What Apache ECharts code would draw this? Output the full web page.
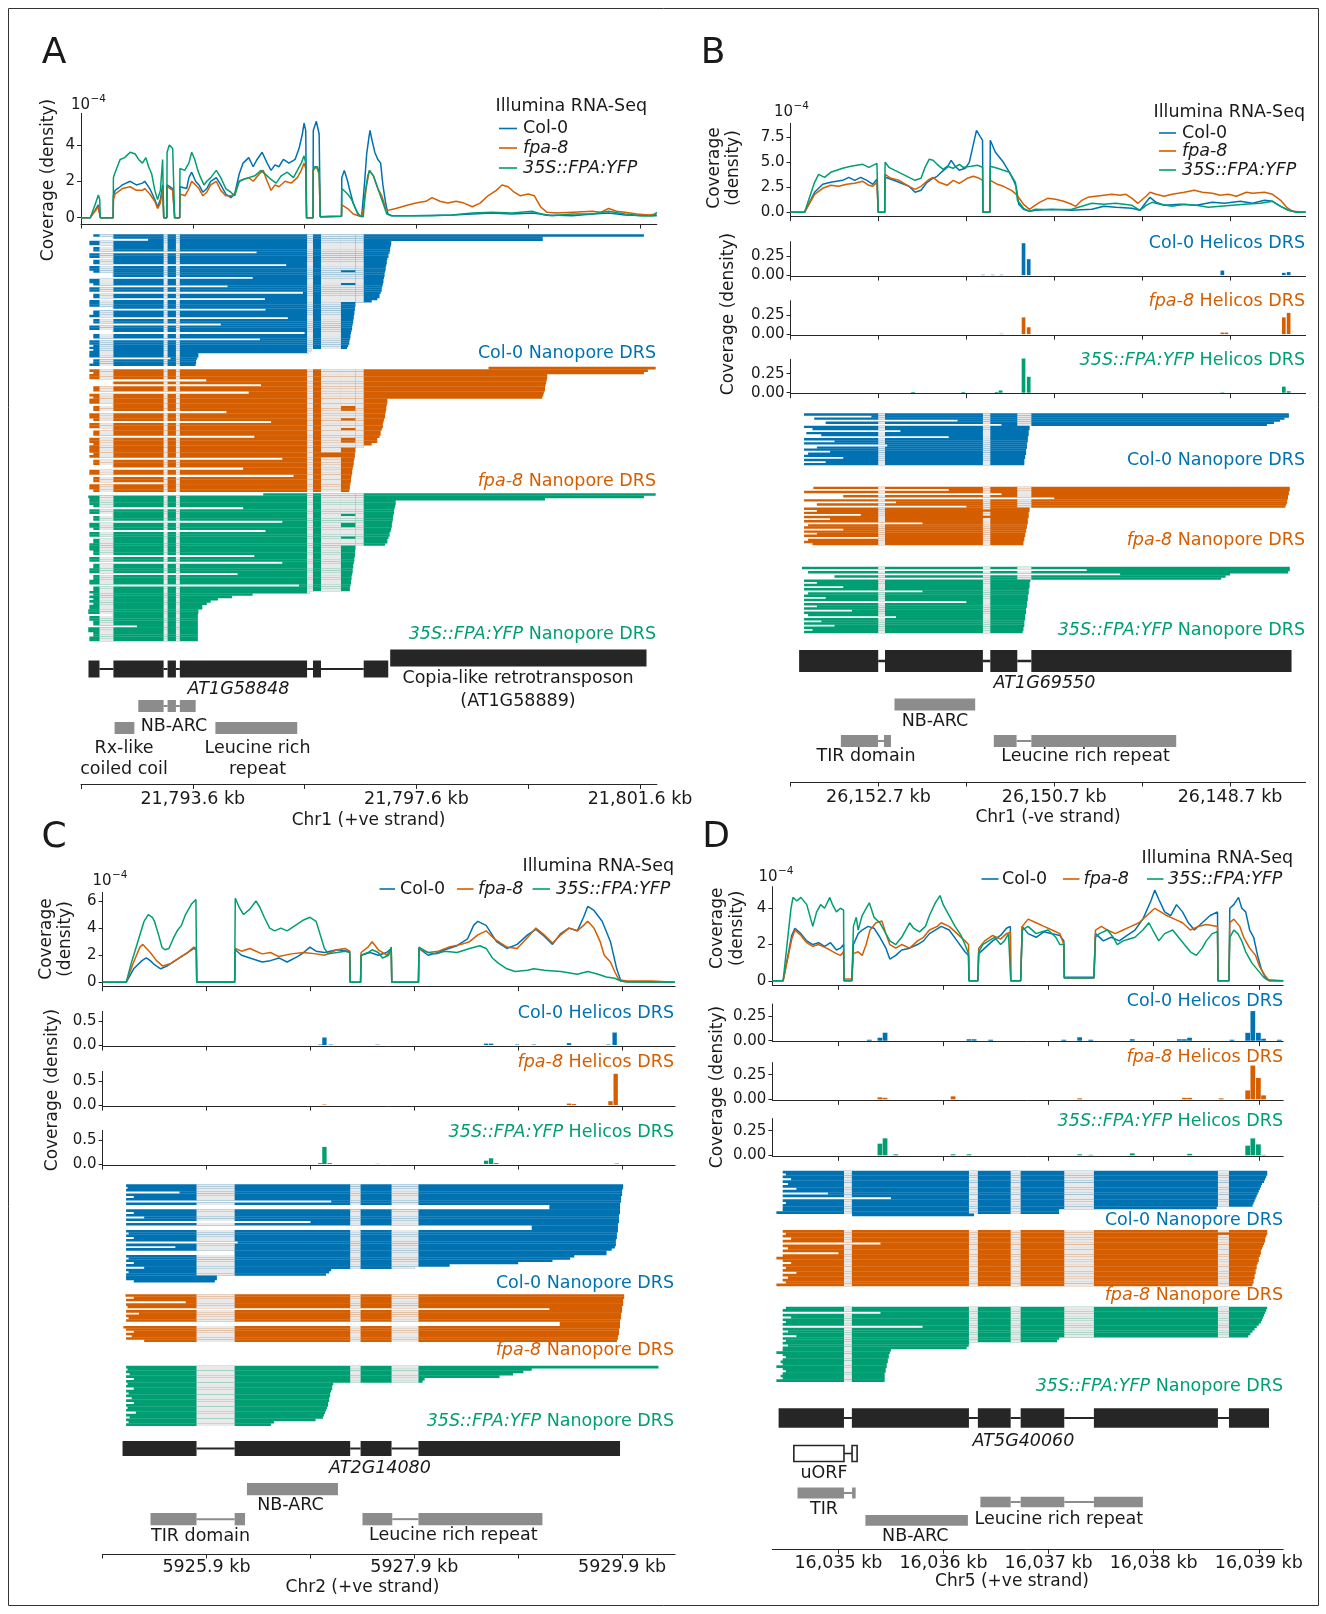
<!DOCTYPE html>
<html><head><meta charset="utf-8">
<script src="https://cdn.jsdelivr.net/npm/echarts@6/dist/echarts.min.js"></script>
<style>html,body{margin:0;padding:0;background:#fff}#c{width:1326px;height:1614px}</style>
</head><body><div id="c"></div>
<script>
// ===== Positions are kb offsets from a panel base (A: 21,791.6 kb; B: 26,153.7 kb minus strand; C: 5,924.9 kb; D: 16,034 kb) =====
// ---------- Panel A ----------
const A_COV_COL=[[0,0],[0.165,0],[0.25,0.4],[0.31,0.7],[0.335,0.6],[0.345,0],[0.575,0],[0.58,1.2],[0.61,1.5],[0.70,1.7],[0.74,1.8],[0.88,2.0],[0.99,1.8],[1.10,1.9],[1.14,2.0],[1.23,1.6],[1.32,1.0],[1.37,0.6],[1.42,1.0],[1.46,1.8],[1.475,1.8],[1.48,0],[1.535,0],[1.54,1.8],[1.57,1.8],[1.64,1.6],[1.67,1.7],[1.675,0],[1.765,0],[1.77,1.7],[1.80,1.8],[1.89,1.6],[1.93,2.2],[1.98,2.5],[2.05,2.0],[2.11,1.8],[2.18,1.4],[2.25,1.6],[2.32,2.0],[2.42,2.2],[2.50,1.8],[2.59,1.3],[2.68,1.1],[2.75,1.3],[2.83,2.4],[2.90,3.0],[3.00,3.3],[3.08,2.8],[3.15,3.2],[3.24,3.6],[3.33,3.0],[3.40,2.6],[3.47,2.9],[3.54,2.8],[3.62,3.2],[3.72,3.0],[3.83,3.2],[3.90,3.8],[3.96,4.6],[3.99,5.2],[4.02,4.8],[4.03,4.8],[4.035,0],[4.15,0],[4.155,4.8],[4.21,5.3],[4.26,4.6],[4.275,4.6],[4.28,0.05],[4.66,0.08],[4.665,2.2],[4.71,2.6],[4.77,2.0],[4.80,1.6],[4.87,0.8],[4.95,0.2],[5.02,0.05],[5.05,0.05],[5.075,2.0],[5.11,3.5],[5.15,4.4],[5.17,4.8],[5.21,4.2],[5.255,3.6],[5.31,3.2],[5.36,3.0],[5.40,1.8],[5.45,0.8],[5.49,0.2],[5.56,0.1],[5.92,0.1],[6.64,0.15],[7.00,0.2],[7.35,0.25],[7.71,0.2],[8.07,0.25],[8.36,0.15],[8.79,0.1],[9.15,0.2],[9.44,0.25],[9.73,0.15],[10.09,0.1],[10.30,0.1]];
const A_COV_FPA=[[0,0],[0.165,0],[0.25,0.35],[0.31,0.6],[0.335,0.5],[0.345,0],[0.575,0],[0.58,1.0],[0.61,1.3],[0.74,1.6],[0.88,1.7],[0.99,1.5],[1.10,1.5],[1.14,1.6],[1.23,1.3],[1.32,0.9],[1.37,0.5],[1.42,0.8],[1.46,1.6],[1.475,1.6],[1.48,0],[1.535,0],[1.54,1.7],[1.57,1.7],[1.64,1.5],[1.67,1.5],[1.675,0],[1.765,0],[1.77,1.3],[1.80,1.3],[1.86,1.2],[1.93,1.6],[1.98,2.0],[2.05,1.8],[2.11,1.6],[2.18,1.2],[2.25,1.4],[2.32,1.8],[2.42,2.0],[2.50,1.5],[2.59,1.2],[2.68,1.2],[2.75,1.3],[2.83,2.0],[2.90,2.1],[3.00,2.2],[3.08,2.0],[3.19,2.4],[3.26,2.6],[3.33,2.0],[3.40,1.5],[3.47,1.8],[3.54,1.7],[3.65,2.0],[3.76,1.9],[3.87,2.2],[3.94,2.6],[3.99,3.0],[4.02,2.7],[4.03,2.7],[4.035,0],[4.15,0],[4.155,2.6],[4.21,2.8],[4.26,2.4],[4.275,2.4],[4.28,0.05],[4.66,0.08],[4.665,0.7],[4.77,0.5],[4.87,0.2],[5.02,0.05],[5.05,0.05],[5.06,0.6],[5.11,1.8],[5.16,2.6],[5.23,2.3],[5.31,1.6],[5.38,1.2],[5.45,0.5],[5.49,0.4],[5.63,0.5],[5.85,0.7],[5.99,0.8],[6.17,0.9],[6.28,1.1],[6.42,0.9],[6.56,0.8],[6.71,0.9],[6.85,0.8],[7.00,0.6],[7.14,0.8],[7.28,1.2],[7.43,1.5],[7.53,1.8],[7.64,1.7],[7.75,1.4],[7.86,1.2],[8.00,1.3],[8.11,1.2],[8.22,0.6],[8.33,0.3],[8.51,0.25],[8.79,0.3],[9.15,0.35],[9.30,0.3],[9.44,0.5],[9.58,0.35],[9.73,0.3],[9.94,0.2],[10.16,0.15],[10.30,0.2]];
const A_COV_YFP=[[0,0],[0.165,0],[0.25,0.7],[0.31,1.25],[0.335,1.0],[0.345,0],[0.575,0],[0.58,2.2],[0.60,2.4],[0.70,3.2],[0.78,3.3],[0.81,3.4],[0.88,3.6],[0.97,3.5],[1.03,3.2],[1.10,3.0],[1.16,3.3],[1.21,2.8],[1.265,2.4],[1.32,1.5],[1.37,1.0],[1.42,1.5],[1.46,3.2],[1.475,3.2],[1.48,0],[1.535,0],[1.54,3.6],[1.58,4.0],[1.64,3.8],[1.67,3.7],[1.675,0],[1.765,0],[1.77,2.7],[1.78,2.8],[1.855,2.6],[1.93,3.0],[1.98,3.6],[2.035,3.2],[2.09,2.6],[2.14,2.2],[2.20,1.8],[2.25,2.0],[2.32,2.2],[2.42,2.6],[2.50,2.2],[2.59,1.6],[2.68,1.4],[2.75,1.2],[2.83,2.0],[2.90,2.1],[3.00,2.2],[3.11,2.3],[3.22,2.6],[3.33,2.3],[3.40,2.1],[3.49,1.9],[3.58,2.3],[3.69,2.5],[3.80,2.2],[3.87,2.6],[3.94,3.0],[3.99,3.4],[4.02,3.0],[4.03,3.0],[4.035,0],[4.15,0],[4.155,2.6],[4.18,2.8],[4.23,2.8],[4.26,2.5],[4.275,2.5],[4.28,0.05],[4.66,0.08],[4.665,1.6],[4.77,1.3],[4.84,1.0],[4.91,0.5],[4.98,0.1],[5.05,0.05],[5.075,1.2],[5.13,2.3],[5.16,2.6],[5.23,2.3],[5.31,1.6],[5.38,1.0],[5.47,0.2],[5.56,0.1],[6.28,0.1],[6.64,0.15],[7.00,0.25],[7.35,0.3],[7.71,0.25],[8.07,0.35],[8.29,0.15],[8.43,0.1],[8.79,0.2],[9.15,0.2],[9.44,0.35],[9.73,0.2],[10.01,0.1],[10.23,0.1],[10.30,0.3]];
const A_INTRONS=[[0.331,0.580],[1.478,1.549],[1.698,1.768],[4.044,4.150],[4.293,4.650],[4.650,4.910],[4.910,5.057]];
// reads: [start, end, rows, retainedIntronBits]
const A_READS_COL=[[0.22,10.07,1],[0.57,8.26,1],[1.2,8.26,1],[0.15,5.55,2],[0.57,5.54,1],[0.22,5.53,2],[3.14,5.52,1],[0.15,5.50,2],[0.57,5.48,1],[0.22,5.47,2],[3.67,5.46,1],[0.15,5.45,2],[0.22,5.44,1,32],[0.57,5.43,2],[3.07,5.42,1],[0.15,5.41,2],[0.22,5.40,1,32],[2.62,5.39,1],[0.15,5.38,2],[3.97,5.36,1],[0.22,5.34,2],[3.29,5.30,1],[0.15,5.20,1],
 [0.15,4.91,2,32],[0.57,4.90,1,32],[3.3,4.90,1,32],[0.22,4.89,2,32],[0.15,4.88,1,32],[3.7,4.88,1,32],[0.22,4.87,2,32],[2.5,4.86,1,32],[0.15,4.85,2,32],[0.57,4.84,1,32],[4.0,4.83,1,32],[0.22,4.82,2,32],[3.2,4.81,1,32],[0.15,4.80,2,32],[0.22,4.78,1,32],[0.15,4.76,1,32],
 [0.22,4.12,1],[0.15,4.08,1],[0.15,2.10,2],[1.6,2.08,1],[0.22,2.06,2],[0.15,2.05,1]];
const A_READS_FPA=[[7.29,10.28,1],[0.15,10.14,1],[0.22,10.07,1],[0.15,8.34,2],[2.24,8.33,1],[0.57,8.32,1],[3.22,8.31,1],[0.22,8.30,2],[3.0,8.28,1],[0.15,8.27,1],[0.22,8.25,1],
 [0.15,5.48,2],[0.57,5.47,1],[0.22,5.46,2,32],[2.6,5.45,1],[0.15,5.44,2],[0.22,5.42,1,32],[3.4,5.41,1],[0.15,5.40,2],[0.57,5.38,1,32],[0.22,5.36,2],[3.1,5.34,1],[0.15,5.30,2,32],[0.22,5.20,1],[0.15,5.05,1],
 [0.15,4.91,2,32],[0.22,4.90,1,48],[0.15,4.90,1,48],[3.6,4.89,1,32],[0.22,4.88,2,32],[0.57,4.87,1,32],[2.9,4.86,1,32],[0.15,4.85,2,32],[3.8,4.84,1,32],[0.22,4.83,2,32],[1.5,4.82,1,32],[0.15,4.81,2,32],[0.22,4.80,1,32]];
const A_READS_YFP=[[3.26,10.28,1],[0.13,10.07,1],[0.15,8.30,1],
 [0.15,5.63,2],[0.22,5.62,1],[2.9,5.61,1],[0.15,5.60,2],[0.57,5.59,1,32],[0.22,5.58,2],[3.6,5.57,1],[0.15,5.56,2,32],[0.22,5.55,1],[3.3,5.54,1],[0.15,5.52,2],[0.57,5.50,1,32],[0.22,5.48,2],[0.15,5.44,1],
 [0.15,4.91,2,32],[0.22,4.90,2,32],[3.1,4.90,1,32],[0.15,4.89,2,32],[3.6,4.88,1,32],[0.22,4.87,2,32],[0.15,4.86,2,32],[2.8,4.85,1,32],[0.22,4.84,2,32],[0.15,4.83,2,32],[3.9,4.82,1,32],[0.22,4.81,2,32],
 [0.15,4.09,1],[0.22,3.07,1],[0.15,2.70,1],[0.22,2.45,1],[0.15,2.32,1],[0.22,2.25,1],[0.15,2.17,2],[0.13,2.10,2],[0.57,2.09,1],[0.15,2.09,2],[0.22,2.09,2],[1.0,2.09,1],[0.13,2.09,2],[0.22,2.09,2],[0.15,2.09,2]];
const A_EXONS=[[0.134,0.331],[0.580,1.478],[1.549,1.698],[1.768,4.044],[4.150,4.293],[5.057,5.496]];
const A_TE=[[5.531,10.116]];
const A_NBARC=[[1.025,1.478],[1.549,1.698],[1.768,2.051]];
const A_RXCC=[[0.601,0.954]];
const A_LRR=[[2.404,3.868]];

// ---------- Panel B ----------
const B_COV_COL=[[0,0],[0.16,0],[0.274,2.0],[0.366,2.8],[0.457,3.0],[0.594,3.2],[0.663,3.5],[0.731,3.2],[0.80,3.5],[0.868,3.2],[0.937,2.8],[0.983,3.3],[0.994,3.3],[0.998,0],[1.072,0],[1.076,3.5],[1.143,3.3],[1.234,3.0],[1.348,2.6],[1.417,2.0],[1.485,2.2],[1.554,3.0],[1.60,3.3],[1.668,3.6],[1.714,4.0],[1.782,4.5],[1.828,5.2],[1.874,4.6],[1.92,4.2],[1.988,4.4],[2.034,5.0],[2.08,6.8],[2.116,8.2],[2.157,7.6],[2.185,7.2],[2.189,0],[2.268,0],[2.273,7.2],[2.331,6.0],[2.377,5.5],[2.422,5.0],[2.491,4.0],[2.537,3.2],[2.569,2.5],[2.596,0.8],[2.651,0.3],[2.719,0.1],[2.788,0.2],[2.971,0.3],[3.199,0.2],[3.428,0.3],[3.565,0.6],[3.702,0.5],[3.885,0.4],[3.976,0.2],[4.045,1.0],[4.09,1.5],[4.159,1.0],[4.25,0.7],[4.433,0.8],[4.616,0.7],[4.799,1.0],[4.936,0.9],[5.119,1.1],[5.256,0.9],[5.393,1.2],[5.484,1.1],[5.576,0.6],[5.667,0.2],[5.759,0],[5.86,0]];
const B_COV_FPA=[[0,0],[0.16,0],[0.274,1.8],[0.366,2.4],[0.457,2.7],[0.548,2.6],[0.64,2.8],[0.731,2.9],[0.823,3.1],[0.891,2.7],[0.937,2.6],[0.983,3.0],[0.994,3.0],[0.998,0],[1.072,0],[1.076,3.8],[1.143,3.4],[1.234,3.2],[1.348,2.6],[1.417,2.3],[1.485,2.6],[1.577,3.3],[1.622,3.5],[1.691,3.0],[1.782,2.7],[1.851,3.2],[1.92,2.9],[2.011,3.4],[2.08,3.6],[2.148,3.4],[2.185,3.2],[2.189,0],[2.268,0],[2.273,3.2],[2.354,2.8],[2.422,2.6],[2.514,2.2],[2.569,1.8],[2.651,0.8],[2.719,0.3],[2.765,0.6],[2.834,1.0],[2.925,1.4],[3.016,1.3],[3.108,1.1],[3.199,0.8],[3.245,0.6],[3.314,1.2],[3.382,1.5],[3.473,1.6],[3.565,1.7],[3.656,1.8],[3.748,1.7],[3.816,1.8],[3.885,1.4],[3.953,0.9],[4.045,1.6],[4.09,2.0],[4.159,1.8],[4.25,1.6],[4.342,1.8],[4.479,2.0],[4.593,2.2],[4.685,2.0],[4.799,1.9],[4.89,1.7],[4.982,1.8],[5.073,1.6],[5.187,2.0],[5.256,1.9],[5.393,2.0],[5.484,1.8],[5.576,1.2],[5.644,0.5],[5.713,0.1],[5.86,0]];
const B_COV_YFP=[[0,0],[0.16,0],[0.274,3.0],[0.32,3.8],[0.388,3.5],[0.457,4.0],[0.594,4.4],[0.686,4.6],[0.823,4.8],[0.891,4.5],[0.96,4.8],[0.983,4.9],[0.994,4.9],[0.998,0],[1.072,0],[1.076,5.0],[1.12,4.5],[1.188,4.2],[1.28,3.8],[1.348,3.5],[1.417,3.2],[1.485,3.4],[1.531,4.5],[1.577,5.3],[1.622,5.2],[1.668,4.8],[1.737,4.3],[1.782,4.6],[1.851,4.4],[1.92,4.8],[1.965,4.5],[2.057,4.6],[2.126,4.7],[2.185,4.5],[2.189,0],[2.268,0],[2.273,4.6],[2.354,4.4],[2.422,4.2],[2.491,4.0],[2.559,3.0],[2.582,1.2],[2.651,0.4],[2.719,0.1],[2.788,0.3],[2.971,0.25],[3.199,0.3],[3.314,0.6],[3.428,0.9],[3.565,0.8],[3.702,0.9],[3.885,0.7],[3.976,0.2],[4.045,0.7],[4.113,1.0],[4.205,0.8],[4.342,0.6],[4.479,0.8],[4.616,0.7],[4.753,0.5],[4.89,0.6],[5.027,0.7],[5.165,0.8],[5.347,0.9],[5.484,1.1],[5.576,0.6],[5.667,0.2],[5.759,0],[5.86,0]];
const B_HEL_COL=[[2.19,0.005],[2.30,0.005],[2.40,0.005],[2.651,0.42],[2.71,0.21],[4.913,0.06],[5.612,0.03],[5.667,0.04]];
const B_HEL_FPA=[[2.40,0.005],[2.651,0.22],[2.71,0.09],[4.913,0.02],[4.959,0.02],[5.612,0.22],[5.667,0.28]];
const B_HEL_YFP=[[1.394,0.01],[1.965,0.01],[2.345,0.01],[2.39,0.03],[2.651,0.45],[2.71,0.21],[4.913,0.005],[5.612,0.08],[5.667,0.02]];
const B_INTRONS=[[0.998,1.075],[2.189,2.273],[2.580,2.740]];
const B_READS_COL=[[0.154,5.67,1],[0.92,5.67,1],[0.27,5.62,1],[1.9,5.57,1],[0.4,5.50,1],[2.4,5.42,1],
 [0.154,2.72,1,4],[0.25,2.72,1,4],[1.25,2.71,1,4],[0.18,2.71,1,4],[0.35,2.71,1,4],[1.8,2.70,1,4],[0.154,2.70,1,4],[0.5,2.70,1,4],[0.154,2.69,1,4],[1.1,2.69,1,4],[0.3,2.69,1,4],[0.154,2.68,1,4],[0.45,2.68,1,4],[0.2,2.68,1,4],[0.154,2.67,1,4],[0.6,2.67,1,4],[0.154,2.66,1,4],[0.4,2.66,1,4],[0.154,2.66,1,4]];
const B_READS_FPA=[[0.26,5.68,1],[1.8,5.68,1],[0.154,5.67,1],[2.4,5.67,1],[0.6,5.66,1],[3.0,5.66,1],[0.154,5.65,1],[1.2,5.65,1],[0.3,5.64,1],[2.0,5.63,1],
 [0.154,2.72,1,4],[0.3,2.72,1,6],[0.154,2.71,1,4],[0.8,2.71,1,4],[0.154,2.71,1,6],[0.45,2.70,1,4],[0.154,2.70,1,4],[1.5,2.70,1,4],[0.2,2.69,1,4],[0.154,2.69,1,4],[0.6,2.68,1,4],[0.154,2.68,1,4],[0.3,2.67,1,4],[0.154,2.67,1,4],[1.0,2.66,1,4],[0.2,2.66,1,4],[0.154,2.65,1,4],[0.25,2.65,1,4]];
const B_READS_YFP=[[0.13,5.68,1],[3.37,5.68,1],[0.2,5.66,1],[3.75,5.0,1],[0.5,4.95,1],[2.2,4.9,1],
 [0.154,2.73,1,4],[0.3,2.72,1,4],[0.154,2.72,1,4],[0.6,2.72,1,4],[0.154,2.71,1,4],[1.5,2.71,1,4],[0.2,2.71,1,4],[0.154,2.70,1,4],[0.4,2.70,1,4],[0.154,2.70,1,4],[2.0,2.69,1,4],[0.154,2.69,1,4],[0.3,2.69,1,4],[0.154,2.68,1,4],[0.7,2.68,1,4],[0.154,2.68,1,4],[0.2,2.67,1,4],[1.2,2.67,1,4],[0.154,2.67,1,4],[0.35,2.66,1,4],[0.154,2.66,1,4],[0.5,2.66,1,4],[0.154,2.65,1,4],[0.25,2.65,1,4],[0.154,2.64,1,4]];
const B_EXONS=[[0.098,0.998],[1.075,2.189],[2.273,2.580],[2.740,5.700]];
const B_NBARC=[[1.183,2.101]];
const B_TIR=[[0.573,0.995],[1.064,1.143]];
const B_LRR=[[2.313,2.572],[2.740,4.388]];

// ---------- Panel C ----------
const C_COV_COL=[[0,0],[0.227,0],[0.299,1.0],[0.379,1.6],[0.419,1.8],[0.459,1.6],[0.499,1.3],[0.559,1.0],[0.619,1.2],[0.698,1.6],[0.758,1.9],[0.818,2.2],[0.878,2.5],[0.902,2.4],[0.906,0],[1.271,0],[1.277,2.4],[1.337,2.0],[1.417,1.8],[1.536,1.5],[1.616,1.6],[1.696,1.8],[1.776,1.5],[1.876,1.9],[1.935,2.2],[1.995,2.6],[2.055,2.3],[2.135,2.2],[2.255,2.4],[2.378,2.3],[2.383,0],[2.483,0],[2.488,2.0],[2.574,2.2],[2.654,2.0],[2.733,2.2],[2.778,2.5],[2.783,0],[3.040,0],[3.045,2.5],[3.132,2.0],[3.232,2.2],[3.292,2.4],[3.412,2.7],[3.512,3.2],[3.571,4.2],[3.611,4.5],[3.691,4.2],[3.791,3.0],[3.891,2.5],[3.99,2.8],[4.09,3.5],[4.17,3.9],[4.25,3.4],[4.33,2.8],[4.409,3.6],[4.489,4.0],[4.569,3.8],[4.629,4.8],[4.669,5.6],[4.729,5.3],[4.808,4.5],[4.888,3.0],[4.948,1.0],[4.988,0.1],[5.048,0.05],[5.287,0.05],[5.507,0]];
const C_COV_FPA=[[0,0],[0.227,0],[0.299,1.5],[0.359,2.6],[0.387,2.8],[0.459,2.2],[0.519,1.6],[0.579,1.2],[0.658,1.4],[0.738,1.8],[0.818,2.2],[0.878,2.6],[0.902,2.5],[0.906,0.05],[1.271,0.05],[1.277,2.5],[1.337,2.3],[1.417,2.5],[1.536,2.1],[1.616,2.2],[1.696,1.9],[1.816,2.1],[1.935,2.2],[2.055,2.1],[2.135,2.0],[2.255,2.4],[2.334,2.5],[2.378,2.3],[2.383,0],[2.483,0],[2.488,2.2],[2.554,2.6],[2.594,3.0],[2.654,2.4],[2.733,2.0],[2.778,2.4],[2.783,0],[3.040,0],[3.045,2.5],[3.132,2.2],[3.232,2.3],[3.332,2.6],[3.452,2.8],[3.532,3.0],[3.611,3.5],[3.691,3.8],[3.771,3.2],[3.891,2.6],[3.99,2.5],[4.09,3.3],[4.17,4.0],[4.25,3.5],[4.33,2.9],[4.409,3.5],[4.489,4.0],[4.569,3.8],[4.629,4.2],[4.669,4.5],[4.729,4.0],[4.789,3.0],[4.828,2.0],[4.888,1.5],[4.928,0.8],[4.968,0.2],[5.048,0.1],[5.287,0.1],[5.507,0]];
const C_COV_YFP=[[0,0],[0.227,0],[0.279,1.5],[0.339,3.0],[0.399,4.5],[0.439,5.0],[0.479,4.8],[0.499,4.5],[0.539,3.5],[0.571,2.6],[0.599,2.4],[0.638,2.5],[0.678,3.2],[0.718,3.8],[0.758,4.2],[0.798,5.0],[0.858,5.8],[0.898,6.1],[0.902,6.1],[0.906,0],[1.271,0],[1.277,6.2],[1.317,5.5],[1.357,5.0],[1.417,5.4],[1.476,6.0],[1.516,5.5],[1.556,4.8],[1.608,4.0],[1.656,3.8],[1.716,4.0],[1.776,3.8],[1.856,4.2],[1.935,4.6],[1.995,4.8],[2.055,4.5],[2.095,3.5],[2.135,2.5],[2.175,2.1],[2.255,2.2],[2.334,2.3],[2.378,2.2],[2.383,0],[2.483,0],[2.488,2.0],[2.554,2.2],[2.594,2.4],[2.654,2.2],[2.694,1.8],[2.753,2.0],[2.778,2.6],[2.783,0],[3.040,0],[3.045,2.6],[3.132,2.2],[3.212,2.1],[3.292,2.3],[3.412,2.2],[3.532,2.5],[3.631,2.7],[3.691,2.5],[3.751,1.8],[3.811,1.4],[3.891,1.0],[3.97,0.8],[4.09,0.9],[4.15,1.0],[4.25,0.9],[4.409,0.8],[4.569,0.6],[4.669,0.8],[4.769,0.6],[4.848,0.4],[4.928,0.3],[4.988,0.1],[5.048,0.02],[5.507,0]];
const C_HEL_COL=[[2.095,0.01],[2.135,0.157],[2.195,0.01],[2.646,0.008],[3.691,0.03],[3.739,0.03],[3.99,0.01],[4.15,0.01],[4.489,0.04],[4.868,0.01],[4.928,0.26]];
const C_HEL_FPA=[[2.135,0.01],[4.489,0.03],[4.537,0.02],[4.888,0.08],[4.938,0.65]];
const C_HEL_YFP=[[2.095,0.02],[2.135,0.356],[2.185,0.02],[2.646,0.005],[3.691,0.07],[3.739,0.12],[3.789,0.02],[4.948,0.01]];
const C_INTRONS=[[0.904,1.271],[2.383,2.483],[2.781,3.040]];
const C_READS_COL=[[0.226,5.01,1],[0.24,5.01,1],[0.226,5.00,1],[0.74,5.00,1],[0.226,5.00,1],[0.30,4.99,1],[0.226,4.99,1],[2.2,4.99,1],[0.226,4.98,1],[4.30,4.98,2],[0.226,4.98,1],[0.30,4.98,1],[0.226,4.97,1],[0.40,4.97,1],[0.226,4.97,1],[2.0,4.97,1],[0.226,4.96,1],[4.13,4.96,2],[0.226,4.96,1],[0.25,4.95,1],[0.226,4.95,1],[0.3,4.95,1],[0.226,4.94,1],[1.3,4.94,1],[0.226,4.94,1],[0.7,4.93,1],[0.226,4.90,1],[1.27,4.85,2],[0.226,4.54,1],[0.25,4.50,1],[0.226,4.33,1],[0.3,4.0,1],[0.226,3.34,1],[0.4,3.0,1],[0.226,2.20,1],[0.25,2.18,1],[0.226,2.15,1],[0.226,1.10,2,1],[0.30,1.08,1,1]];
const C_READS_FPA=[[0.22,5.02,1],[0.30,5.02,1],[0.226,5.01,1],[0.8,5.01,1],[0.226,5.01,1],[0.24,5.00,1],[4.3,5.00,1],[0.226,5.00,1],[0.35,4.99,1],[0.226,4.99,1],[0.25,4.99,1],[0.226,4.98,1],[4.4,4.98,2],[0.20,4.98,1],[0.226,4.97,1],[0.30,4.97,1],[0.226,4.97,1],[0.28,4.96,1],[0.226,4.96,1],[0.4,4.95,1]];
const C_READS_YFP=[[0.226,5.35,1],[0.24,4.13,1],[0.226,4.05,1],[0.26,3.95,1],[0.226,3.82,1],[0.3,3.10,1],[0.226,3.08,1],[0.24,2.22,1],[0.226,2.21,1],[0.30,2.21,1],[0.226,2.20,1],[0.25,2.19,1],[0.226,2.19,1],[0.28,2.18,1],[0.226,2.18,1],[0.3,2.17,1],[0.226,2.17,1],[0.24,2.16,1],[0.226,2.15,1],[0.32,2.14,1],[0.226,2.13,1],[0.26,2.12,1],[0.226,2.05,1],[0.25,1.65,1],[0.226,1.62,1]];
const C_EXONS=[[0.192,0.904],[1.271,2.383],[2.483,2.781],[3.040,4.980]];
const C_NBARC=[[1.389,2.265]];
const C_TIR=[[0.461,0.904],[1.271,1.371]];
const C_LRR=[[2.501,2.788],[3.040,4.233]];

// ---------- Panel D ----------
const D_COV_COL=[[0.372,0],[0.474,0],[0.556,2.5],[0.586,2.9],[0.643,2.6],[0.699,2.2],[0.756,2.0],[0.812,2.1],[0.869,1.9],[0.925,2.1],[0.981,1.7],[1.019,1.8],[1.049,2.0],[1.053,0],[1.128,0],[1.143,2.0],[1.188,2.6],[1.226,2.8],[1.282,3.0],[1.339,2.9],[1.395,2.4],[1.452,1.8],[1.489,1.2],[1.546,1.4],[1.602,1.7],[1.678,1.8],[1.753,2.0],[1.809,2.2],[1.866,2.6],[1.922,2.8],[1.978,3.0],[2.054,2.8],[2.129,2.2],[2.204,1.6],[2.238,1.4],[2.242,0],[2.327,0],[2.335,1.5],[2.392,1.8],[2.468,2.2],[2.543,2.5],[2.599,2.9],[2.636,3.0],[2.64,0],[2.734,0],[2.749,3.0],[2.805,2.6],[2.881,2.4],[2.956,2.7],[3.032,2.6],[3.107,2.5],[3.145,2.2],[3.149,0.2],[3.431,0.2],[3.446,2.6],[3.521,2.2],[3.596,2.4],[3.672,2.2],[3.747,2.5],[3.822,2.8],[3.897,3.4],[3.973,4.4],[4.01,5.0],[4.048,4.5],[4.104,3.8],[4.161,3.6],[4.217,4.2],[4.274,3.8],[4.33,3.2],[4.387,2.8],[4.462,3.2],[4.537,3.6],[4.607,3.8],[4.611,0],[4.716,0],[4.724,4.0],[4.762,4.2],[4.807,4.6],[4.838,4.0],[4.875,3.8],[4.913,2.8],[4.951,2.4],[4.988,1.4],[5.026,0.6],[5.071,0.1],[5.101,0],[5.232,0]];
const D_COV_FPA=[[0.372,0],[0.474,0],[0.556,2.3],[0.586,2.8],[0.643,2.5],[0.699,2.1],[0.756,1.9],[0.812,2.0],[0.887,1.8],[0.981,1.5],[1.019,1.4],[1.049,1.6],[1.053,0.1],[1.128,0.1],[1.143,1.5],[1.188,1.6],[1.226,1.4],[1.264,2.0],[1.301,2.8],[1.358,3.2],[1.414,3.3],[1.452,2.6],[1.489,2.0],[1.546,1.8],[1.602,2.0],[1.678,1.8],[1.753,2.2],[1.809,2.4],[1.866,2.8],[1.941,3.0],[1.978,3.2],[2.054,3.0],[2.129,2.6],[2.204,2.2],[2.238,2.0],[2.242,0],[2.327,0],[2.335,1.8],[2.392,2.2],[2.468,2.5],[2.543,2.3],[2.599,2.6],[2.636,2.7],[2.64,0],[2.734,0],[2.749,3.0],[2.805,3.4],[2.881,3.2],[2.956,3.0],[3.032,2.8],[3.107,2.6],[3.145,2.0],[3.149,0.15],[3.431,0.15],[3.446,2.8],[3.502,3.0],[3.559,2.8],[3.634,2.6],[3.709,2.8],[3.784,3.0],[3.86,3.2],[3.935,3.6],[4.01,4.0],[4.067,3.8],[4.123,3.6],[4.198,3.4],[4.274,3.2],[4.349,2.8],[4.424,3.0],[4.5,3.1],[4.607,3.0],[4.611,0],[4.716,0],[4.724,3.2],[4.762,3.4],[4.819,3.0],[4.856,2.4],[4.913,1.8],[4.969,1.4],[5.007,0.8],[5.056,0.3],[5.101,0],[5.232,0]];
const D_COV_YFP=[[0.372,0],[0.474,0],[0.530,3.0],[0.549,4.0],[0.568,4.6],[0.605,4.4],[0.643,4.6],[0.699,4.2],[0.756,3.0],[0.793,3.8],[0.831,4.2],[0.869,4.0],[0.918,4.6],[0.944,4.2],[0.981,3.8],[1.019,4.0],[1.049,3.9],[1.053,0],[1.128,0],[1.143,3.0],[1.17,3.5],[1.188,2.8],[1.226,3.6],[1.264,4.0],[1.294,4.3],[1.339,3.5],[1.395,3.2],[1.452,2.6],[1.489,2.2],[1.546,2.0],[1.602,2.4],[1.64,2.8],[1.678,3.2],[1.715,2.9],[1.772,2.7],[1.828,3.0],[1.866,3.6],[1.922,4.3],[1.967,4.7],[1.997,4.2],[2.054,3.6],[2.11,3.0],[2.167,2.5],[2.204,2.0],[2.238,1.5],[2.242,0],[2.327,0],[2.335,1.6],[2.373,2.0],[2.43,2.2],[2.486,2.4],[2.543,2.0],[2.58,2.2],[2.618,2.6],[2.636,2.6],[2.64,0],[2.734,0],[2.749,2.8],[2.805,3.0],[2.881,2.6],[2.937,2.7],[2.994,2.8],[3.069,2.4],[3.107,2.0],[3.145,2.0],[3.149,0.15],[3.431,0.15],[3.446,2.4],[3.483,2.6],[3.559,2.8],[3.615,2.4],[3.653,2.0],[3.709,2.2],[3.766,2.3],[3.822,2.4],[3.897,2.8],[3.954,3.2],[3.991,2.8],[4.048,2.2],[4.104,2.6],[4.18,2.8],[4.236,2.4],[4.292,2.0],[4.349,1.6],[4.405,1.4],[4.462,1.8],[4.5,2.2],[4.556,2.6],[4.607,2.7],[4.611,0],[4.716,0],[4.724,2.4],[4.762,2.8],[4.8,2.6],[4.838,2.2],[4.875,1.6],[4.932,1.0],[4.988,0.6],[5.045,0.2],[5.082,0.05],[5.101,0],[5.232,0]];
const D_HEL_COL=[[1.294,0.01],[1.395,0.03],[1.444,0.081],[2.242,0.015],[2.291,0.015],[2.449,0.01],[3.145,0.01],[3.295,0.035],[3.401,0.01],[3.796,0.015],[4.244,0.015],[4.292,0.015],[4.341,0.03],[4.744,0.01],[4.894,0.08],[4.943,0.30],[4.996,0.08],[5.045,0.02],[5.195,0.01]];
const D_HEL_FPA=[[1.395,0.02],[1.444,0.015],[2.091,0.03],[3.295,0.01],[4.292,0.015],[4.341,0.015],[4.642,0.01],[4.894,0.09],[4.943,0.342],[4.996,0.216],[5.045,0.04]];
const D_HEL_YFP=[[1.395,0.118],[1.444,0.172],[1.546,0.01],[2.091,0.01],[2.242,0.01],[3.295,0.01],[3.401,0.005],[3.796,0.02],[4.341,0.015],[4.894,0.098],[4.943,0.172],[4.996,0.111],[5.045,0.005]];
const D_INTRONS=[[1.053,1.128],[2.242,2.327],[2.639,2.734],[3.149,3.431],[4.611,4.716]];
const D_READS_COL=[[0.47,5.08,1],[0.50,5.08,1],[0.47,5.07,1],[0.55,5.06,1],[0.47,5.05,1],[0.52,5.03,1],[0.47,5.02,1],[0.60,5.01,1],[0.47,5.00,1],[0.9,4.99,1],[0.47,4.98,1],[1.5,4.97,1],[0.47,4.96,1],[0.50,4.95,1],[0.47,4.94,1],[0.47,4.60,1],[0.47,3.10,1],[0.41,3.10,1],[1.13,2.29,1,2]];
const D_READS_FPA=[[0.47,5.08,1],[0.50,5.08,1,16],[0.47,5.07,1],[0.55,5.06,1],[0.47,5.06,1],[1.4,5.05,1],[0.47,5.04,1],[0.52,5.03,1],[0.47,5.02,1],[1.0,5.02,1],[0.47,5.01,1],[0.41,5.00,1],[0.47,5.00,1],[0.55,4.99,1],[0.47,4.98,1],[0.50,4.98,1],[0.47,4.97,1],[0.60,4.97,1],[0.47,4.96,1],[0.52,4.96,1],[0.47,4.95,1],[0.50,4.95,1],[0.41,4.94,1]];
const D_READS_YFP=[[0.50,5.08,1],[0.47,5.07,1],[1.4,5.06,1],[0.47,5.05,1],[0.55,5.04,1],[0.47,5.03,1],[0.50,5.02,1],[0.47,5.00,1],[1.8,4.98,1],[0.47,4.96,1],[0.52,4.94,1],[0.47,4.92,1],[0.60,4.90,1],[0.47,3.10,1],[0.50,3.08,1],[0.47,2.25,1],[0.52,2.24,1],[0.47,2.22,1],[0.47,1.50,1],[0.41,1.49,1],[0.47,1.48,1],[0.50,1.48,1],[0.47,1.47,1],[0.45,1.47,1],[0.47,1.46,1],[0.41,1.46,1],[0.47,1.45,1],[0.50,1.45,1],[0.47,1.44,1],[0.45,1.44,1],[0.47,1.44,1],[0.41,1.44,1]];
const D_EXONS=[[0.431,1.053],[1.128,2.242],[2.327,2.639],[2.734,3.149],[3.431,4.611],[4.716,5.097]];
const D_UORF=[[0.576,1.053],[1.130,1.178]];
const D_TIR=[[0.611,1.053],[1.130,1.164]];
const D_LRR=[[2.351,2.639],[2.734,3.149],[3.431,3.897]];
const D_NBARC=[[1.257,2.232]];

// ===================== rendering =====================
const FONT='DejaVu Sans', TXT='#1a1a1a', AX='#262626', GRAY='#e9e9e9';
const C_COL='#0072B2', C_FPA='#D55E00', C_YFP='#009E73', EXON='#262626', DOM='#8c8c8c';
function fmtKb(v,d,comma){let s=v.toFixed(d);if(comma){const p=s.split('.');s=p[0].replace(/\B(?=(\d{3})+(?!\d))/g,',')+(p[1]?'.'+p[1]:'');}return s+' kb';}
const PA={min:0,max:10.30,ticks:[0,2,4,6,8,10],labels:[2,6,10],fmt:v=>fmtKb(21791.6+v,1,true),left:81,width:575.8,margin:6};
const PB={min:0,max:5.86,ticks:[0,1,2,3,4,5],labels:[1,3,5],fmt:v=>fmtKb(26153.7-v,1,true),left:790.5,width:515.1,margin:6.5};
const PC={min:0,max:5.51,ticks:[0,1,2,3,4,5],labels:[1,3,5],fmt:v=>fmtKb(5924.9+v,1,false),left:102.6,width:572.5,margin:4};
const PD={min:0.372,max:5.232,ticks:[1,2,3,4,5],labels:[1,2,3,4,5],fmt:v=>fmtKb(16034+v,0,true),left:772.4,width:510.8,margin:5};

const opt={animation:false,backgroundColor:'#fff',grid:[],xAxis:[],yAxis:[],series:[],graphic:{elements:[]}};
const G=opt.graphic.elements;
function grid(left,top,width,height,xa,ya){const i=opt.grid.length;opt.grid.push({left,top,width,height,containLabel:false,show:false});xa.gridIndex=i;ya.gridIndex=i;opt.xAxis.push(xa);opt.yAxis.push(ya);return i;}
function xVis(P,labels){return{type:'value',min:P.min,max:P.max,axisLine:{show:true,onZero:false,lineStyle:{color:AX,width:1}},axisTick:{show:true,length:4.5,customValues:P.ticks,lineStyle:{color:AX,width:1}},axisLabel:{show:!!labels,customValues:P.labels,formatter:P.fmt,fontFamily:FONT,fontSize:17.5,color:TXT,margin:P.margin,showMinLabel:true,showMaxLabel:true},splitLine:{show:false}};}
function hid(min,max,inv){return{type:'value',min,max,show:false,inverse:!!inv,splitLine:{show:false},axisLine:{onZero:false}};}
function yVis(min,max,ticks,fmt){return{type:'value',min,max,axisLine:{show:true,onZero:false,lineStyle:{color:AX,width:1}},axisTick:{show:true,length:4,customValues:ticks,lineStyle:{color:AX}},axisLabel:{show:true,customValues:ticks,formatter:fmt,fontFamily:FONT,fontSize:15,color:TXT,margin:6,showMinLabel:true,showMaxLabel:true},splitLine:{show:false}};}
function covPlot(P,top,h,ymin,ymax,ticks,fmt,col,fpa,yfp){
  const gi=grid(P.left,top,P.width,h,xVis(P,false),yVis(ymin,ymax,ticks,fmt));
  [[col,C_COL],[fpa,C_FPA],[yfp,C_YFP]].forEach(([d,c])=>opt.series.push({type:'line',xAxisIndex:gi,yAxisIndex:gi,data:d,showSymbol:false,symbol:'none',lineStyle:{color:c,width:1.5},itemStyle:{color:c},silent:true}));
}
function helPlot(P,top,h,ymin,ymax,ticks,fmt,bars,w,color){
  const gi=grid(P.left,top,P.width,h,xVis(P,false),yVis(ymin,ymax,ticks,fmt));
  opt.series.push({type:'custom',xAxisIndex:gi,yAxisIndex:gi,silent:true,data:bars,renderItem:(p,api)=>{
    const x=api.value(0),v=api.value(1);const a=api.coord([x-w/2,0]),b=api.coord([x+w/2,v]);
    return{type:'rect',shape:{x:a[0],y:b[1],width:b[0]-a[0],height:a[1]-b[1]},style:{fill:color}};}});
}
function readPlot(P,top,bottom,list,introns,color){
  const rows=[];list.forEach(r=>{for(let k=0;k<(r[2]||1);k++)rows.push([r[0],r[1],rows.length,r[3]||0]);});
  const gi=grid(P.left,top,P.width,bottom-top,hid(P.min,P.max),hid(0,rows.length,true));
  opt.series.push({type:'custom',xAxisIndex:gi,yAxisIndex:gi,silent:true,data:rows,renderItem:(p,api)=>{
    const s=api.value(0),e=api.value(1),i=api.value(2),f=api.value(3);
    const a=api.coord([s,i]),b=api.coord([e,i+1]);const y=a[1],h=b[1]-a[1]+0.3;
    const ch=[{type:'rect',shape:{x:a[0],y,width:b[0]-a[0],height:h},style:{fill:color}}];
    introns.forEach((iv,k)=>{if(f&(1<<k))return;const u=Math.max(s,iv[0]),v=Math.min(e,iv[1]);
      if(v>u){const c=api.coord([u,i])[0],d=api.coord([v,i])[0];ch.push({type:'rect',shape:{x:c,y,width:d-c,height:h},style:{fill:GRAY}});}});
    return{type:'group',children:ch};}});
}
function geneGrid(P,top,axisY){return grid(P.left,top,P.width,axisY-top,xVis(P,true),hid(0,1));}
function track(gi,segs,y,h,fill,line,lw,stroke){
  opt.series.push({type:'custom',xAxisIndex:gi,yAxisIndex:gi,silent:true,data:segs.map((s,i)=>[s[0],s[1],i]),renderItem:(p,api)=>{
    const s=api.value(0),e=api.value(1),i=api.value(2);const x0=api.coord([s,0])[0],x1=api.coord([e,0])[0];const ch=[];
    if(i>0){const pe=api.coord([segs[i-1][1],0])[0];ch.push({type:'line',shape:{x1:pe,y1:y+h/2,x2:x0,y2:y+h/2},style:{stroke:line,lineWidth:lw}});}
    ch.push({type:'rect',shape:{x:x0,y,width:x1-x0,height:h},style:stroke?{fill,stroke,lineWidth:1.6}:{fill}});
    return{type:'group',children:ch};}});
}
function T(x,y,text,o){o=o||{};const al=o.al||'center';const st={text,fontFamily:FONT,fontSize:o.size||17.5,fill:o.color||TXT,fontStyle:o.italic?'italic':'normal',align:al,verticalAlign:'middle',textAlign:al,textVerticalAlign:'middle'};
  if(o.lh)st.lineHeight=o.lh;
  if(o.rich){st.rich={i:{fontStyle:'italic',fontFamily:FONT,fontSize:o.size||17.5,fill:o.color||TXT},n:{fontFamily:FONT,fontSize:o.size||17.5,fill:o.color||TXT}};}
  G.push({type:'text',x,y,rotation:o.rot?Math.PI/2:0,silent:true,style:st,z:10});}
function L(x1,x2,y,c){G.push({type:'line',silent:true,shape:{x1,y1:y,x2,y2:y},style:{stroke:c,lineWidth:1.6},z:10});}
function exp10(x,y){T(x,y,'10',{al:'left',size:15});T(x+19.5,y-6,'\u22124',{al:'left',size:10.5});}
const ytick1=v=>String(v), ytickF1=v=>v.toFixed(1), ytickF2=v=>v.toFixed(2);
const NAME_COL='{n|Col-0}', NAME_FPA='{i|fpa-8}', NAME_YFP='{i|35S::FPA:YFP}';

// border
G.push({type:'rect',silent:true,shape:{x:8.5,y:8.5,width:1310,height:1597},style:{fill:'none',stroke:'#333',lineWidth:1},z:0});

// ----- Panel A -----
T(54,53.5,'A',{size:36});
covPlot(PA,113.3,110.7,-0.35,5.74,[0,2,4],ytick1,A_COV_COL,A_COV_FPA,A_COV_YFP);
exp10(71,105);
T(48.4,180,'Coverage (density)',{rot:1,size:17});
T(647,106.5,'Illumina RNA-Seq',{al:'right'});
L(499,517,128.5,C_COL);T(523,128.5,'Col-0',{al:'left'});
L(499,517,148,C_FPA);T(523,148,'fpa-8',{al:'left',italic:true});
L(499,517,168,C_YFP);T(523,168,'35S::FPA:YFP',{al:'left',italic:true});
readPlot(PA,234.3,365.7,A_READS_COL,A_INTRONS,C_COL);
readPlot(PA,366.7,491.7,A_READS_FPA,A_INTRONS,C_FPA);
readPlot(PA,493.3,641,A_READS_YFP,A_INTRONS,C_YFP);
T(656,353.3,NAME_COL+' Nanopore DRS',{al:'right',color:C_COL,rich:1});
T(656,481.5,NAME_FPA+' Nanopore DRS',{al:'right',color:C_FPA,rich:1});
T(656,634,NAME_YFP+' Nanopore DRS',{al:'right',color:C_YFP,rich:1});
{const gi=geneGrid(PA,645,784.5);
 track(gi,A_EXONS,660.5,17,EXON,EXON,2);track(gi,A_TE,649.5,17,EXON,EXON,2);
 track(gi,A_NBARC,700,12,DOM,DOM,2);track(gi,A_RXCC,722,12,DOM,DOM,2);track(gi,A_LRR,722,12,DOM,DOM,2);}
T(238.5,689.5,'AT1G58848',{italic:true});
T(518,678,'Copia-like retrotransposon');T(518,701,'(AT1G58889)');
T(174,726,'NB-ARC');T(124,748,'Rx-like');T(124,769.5,'coiled coil');T(257.5,748,'Leucine rich');T(257.5,769.5,'repeat');
T(368.6,821,'Chr1 (+ve strand)',{size:17});

// ----- Panel B -----
T(713,53.5,'B',{size:36});
covPlot(PB,123.3,93.4,-0.44,8.9,[0,2.5,5,7.5],ytickF1,B_COV_COL,B_COV_FPA,B_COV_YFP);
exp10(774,112);
T(724,168,'Coverage\n(density)',{rot:1,size:17,lh:19.5});
T(1305,112,'Illumina RNA-Seq',{al:'right'});
L(1159,1176,133,C_COL);T(1182,133,'Col-0',{al:'left'});
L(1159,1176,151,C_FPA);T(1182,151,'fpa-8',{al:'left',italic:true});
L(1159,1176,170,C_YFP);T(1182,170,'35S::FPA:YFP',{al:'left',italic:true});
helPlot(PB,241.7,34.4,-0.013,0.44,[0,0.25],ytickF2,B_HEL_COL,0.042,C_COL);
helPlot(PB,300.7,34.4,-0.013,0.44,[0,0.25],ytickF2,B_HEL_FPA,0.042,C_FPA);
helPlot(PB,359.3,34.4,-0.013,0.44,[0,0.25],ytickF2,B_HEL_YFP,0.042,C_YFP);
T(729,314,'Coverage (density)',{rot:1,size:17});
T(1305,243.3,NAME_COL+' Helicos DRS',{al:'right',color:C_COL,rich:1});
T(1305,301.7,NAME_FPA+' Helicos DRS',{al:'right',color:C_FPA,rich:1});
T(1305,360.5,NAME_YFP+' Helicos DRS',{al:'right',color:C_YFP,rich:1});
readPlot(PB,413.3,465,B_READS_COL,B_INTRONS,C_COL);
readPlot(PB,486.7,545,B_READS_FPA,B_INTRONS,C_FPA);
readPlot(PB,566.7,633,B_READS_YFP,B_INTRONS,C_YFP);
T(1305,460,NAME_COL+' Nanopore DRS',{al:'right',color:C_COL,rich:1});
T(1305,540.5,NAME_FPA+' Nanopore DRS',{al:'right',color:C_FPA,rich:1});
T(1305,630,NAME_YFP+' Nanopore DRS',{al:'right',color:C_YFP,rich:1});
{const gi=geneGrid(PB,645,782);
 track(gi,B_EXONS,650,22,EXON,EXON,2.5);
 track(gi,B_NBARC,698.5,12,DOM,DOM,2);track(gi,B_TIR,735,12,DOM,DOM,2);track(gi,B_LRR,735,12,DOM,DOM,2);}
T(1044.5,683.5,'AT1G69550',{italic:true});
T(935,721,'NB-ARC');T(866,756.7,'TIR domain');T(1085.5,756.7,'Leucine rich repeat');
T(1048,817.4,'Chr1 (-ve strand)',{size:17});

// ----- Panel C -----
T(54,838,'C',{size:36});
covPlot(PC,892.3,94.4,-0.32,6.64,[0,2,4,6],ytick1,C_COV_COL,C_COV_FPA,C_COV_YFP);
exp10(92.5,881.5);
T(56,939,'Coverage\n(density)',{rot:1,size:17,lh:19});
T(674,866.5,'Illumina RNA-Seq',{al:'right'});
L(379.5,395,889,C_COL);T(400,889,'Col-0',{al:'left'});
L(457,473.5,889,C_FPA);T(478,889,'fpa-8',{al:'left',italic:true});
L(532.5,550,889,C_YFP);T(556,889,'35S::FPA:YFP',{al:'left',italic:true});
helPlot(PC,1011.4,34.6,-0.02,0.70,[0,0.5],ytickF1,C_HEL_COL,0.042,C_COL);
helPlot(PC,1071.4,34.6,-0.02,0.70,[0,0.5],ytickF1,C_HEL_FPA,0.042,C_FPA);
helPlot(PC,1130.4,34.6,-0.02,0.70,[0,0.5],ytickF1,C_HEL_YFP,0.042,C_YFP);
T(53,1090,'Coverage (density)',{rot:1,size:17});
T(674,1013.3,NAME_COL+' Helicos DRS',{al:'right',color:C_COL,rich:1});
T(674,1062.3,NAME_FPA+' Helicos DRS',{al:'right',color:C_FPA,rich:1});
T(674,1132,NAME_YFP+' Helicos DRS',{al:'right',color:C_YFP,rich:1});
readPlot(PC,1184.3,1282.3,C_READS_COL,C_INTRONS,C_COL);
readPlot(PC,1294.3,1341.7,C_READS_FPA,C_INTRONS,C_FPA);
readPlot(PC,1365.7,1425.7,C_READS_YFP,C_INTRONS,C_YFP);
T(674,1283.5,NAME_COL+' Nanopore DRS',{al:'right',color:C_COL,rich:1});
T(674,1350.5,NAME_FPA+' Nanopore DRS',{al:'right',color:C_FPA,rich:1});
T(674,1421.7,NAME_YFP+' Nanopore DRS',{al:'right',color:C_YFP,rich:1});
{const gi=geneGrid(PC,1436,1554);
 track(gi,C_EXONS,1441,15,EXON,EXON,2);
 track(gi,C_NBARC,1483,12.3,DOM,DOM,2);track(gi,C_TIR,1513,12.3,DOM,DOM,2);track(gi,C_LRR,1513,12.3,DOM,DOM,2);}
T(380,1468.3,'AT2G14080',{italic:true});
T(290.5,1505.5,'NB-ARC');T(200.5,1536,'TIR domain');T(453.3,1535,'Leucine rich repeat');
T(362.4,1587.8,'Chr2 (+ve strand)',{size:17});

// ----- Panel D -----
T(716,838,'D',{size:36});
covPlot(PD,886.7,98.6,-0.25,5.19,[0,2,4],ytick1,D_COV_COL,D_COV_FPA,D_COV_YFP);
exp10(758.5,877.5);
T(727.7,928.3,'Coverage\n(density)',{rot:1,size:17,lh:19.5});
T(1293,858,'Illumina RNA-Seq',{al:'right'});
L(981.5,998.5,879,C_COL);T(1002,879,'Col-0',{al:'left'});
L(1063,1079.5,879,C_FPA);T(1083.5,879,'fpa-8',{al:'left',italic:true});
L(1147,1163.5,879,C_YFP);T(1168,879,'35S::FPA:YFP',{al:'left',italic:true});
helPlot(PD,1004,37.7,-0.01,0.372,[0,0.25],ytickF2,D_HEL_COL,0.045,C_COL);
helPlot(PD,1062.6,37.7,-0.01,0.372,[0,0.25],ytickF2,D_HEL_FPA,0.045,C_FPA);
helPlot(PD,1118.6,37.7,-0.01,0.372,[0,0.25],ytickF2,D_HEL_YFP,0.045,C_YFP);
T(717.8,1087,'Coverage (density)',{rot:1,size:17});
T(1283,1001.5,NAME_COL+' Helicos DRS',{al:'right',color:C_COL,rich:1});
T(1283,1057.3,NAME_FPA+' Helicos DRS',{al:'right',color:C_FPA,rich:1});
T(1283,1121.5,NAME_YFP+' Helicos DRS',{al:'right',color:C_YFP,rich:1});
readPlot(PD,1170.7,1216,D_READS_COL,D_INTRONS,C_COL);
readPlot(PD,1230,1286,D_READS_FPA,D_INTRONS,C_FPA);
readPlot(PD,1306.7,1381.7,D_READS_YFP,D_INTRONS,C_YFP);
T(1283,1220,NAME_COL+' Nanopore DRS',{al:'right',color:C_COL,rich:1});
T(1283,1295,NAME_FPA+' Nanopore DRS',{al:'right',color:C_FPA,rich:1});
T(1283,1386.7,NAME_YFP+' Nanopore DRS',{al:'right',color:C_YFP,rich:1});
{const gi=geneGrid(PD,1404,1549.3);
 track(gi,D_EXONS,1408.3,19.4,EXON,EXON,2);
 track(gi,D_UORF,1445.5,16,'#ffffff',EXON,1.6,EXON);
 track(gi,D_TIR,1487.5,11,DOM,DOM,2);track(gi,D_LRR,1496.7,10.6,DOM,DOM,2);track(gi,D_NBARC,1515,10.7,DOM,DOM,2);}
T(1023.5,1441.5,'AT5G40060',{italic:true});
T(824,1473.8,'uORF');T(824,1509.6,'TIR');T(915.3,1536,'NB-ARC');T(1058.8,1519.4,'Leucine rich repeat');
T(1012,1582,'Chr5 (+ve strand)',{size:17});

const chart=echarts.init(document.getElementById('c'),null,{renderer:'canvas',width:1326,height:1614});
chart.setOption(opt);
</script></body></html>
